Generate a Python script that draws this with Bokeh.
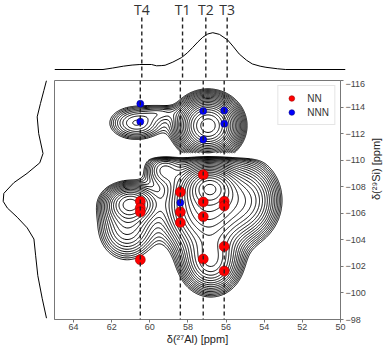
import math
import numpy as np
from bokeh.plotting import figure
from bokeh.models import Range1d, Span, Spacer
from bokeh.layouts import column, row
from bokeh.embed import file_html
from bokeh.resources import INLINE
from bokeh.core.properties import value

# ---------------- data ----------------
t_labels = ["T4", "T1", "T2", "T3"]
t_pos = [60.5, 58.4, 57.2, 56.1]

nn_al = [57.2, 58.4, 58.4, 58.4, 60.5, 60.5, 60.5, 57.2, 57.2, 56.1, 56.1, 56.1, 57.2, 60.5, 56.1]
nn_si = [-108.9, -107.6, -106.1, -105.3, -106.9, -106.4, -106.1, -106.85, -105.75,
         -106.9, -106.55, -103.5, -102.55, -102.5, -101.65]

nnn_al = [60.5, 60.5, 57.2, 56.1, 56.1, 57.2, 58.4]
nnn_si = [-114.25, -112.9, -113.7, -113.75, -112.75, -111.55, -106.8]

# projection on 27Al axis (top trace)
top_al = [65.0, 63.5, 62.5, 62.0, 61.45, 61.0, 60.6, 60.0, 59.74, 59.5, 59.3, 58.9, 58.46,
          58.15, 57.87, 57.6, 57.36, 57.1, 56.84, 56.5, 56.08, 55.8, 55.48, 55.1, 54.8,
          54.4, 54.1, 53.5, 53.08, 50.0]
top_int = [0.0, 0.0, 0.0, 0.04, 0.09, 0.12, 0.135, 0.135, 0.10, 0.105, 0.115, 0.20, 0.32,
           0.45, 0.60, 0.75, 0.87, 0.96, 0.995, 0.95, 0.80, 0.63, 0.42, 0.25, 0.15,
           0.09, 0.06, 0.02, 0.0, 0.0]

# projection on 29Si axis (left trace)
left_si = [-116.0, -115.25, -114.26, -113.26, -112.0, -110.5, -109.8, -109.0, -108.3,
           -107.5, -106.9, -106.4, -105.7, -104.9, -104.06, -102.8, -101.3, -99.6, -98.1]
left_int = [0.0, 0.06, 0.14, 0.215, 0.18, 0.08, 0.155, 0.45, 0.755, 0.985, 1.0, 0.905,
            0.675, 0.445, 0.29, 0.25, 0.20, 0.10, 0.0]

# 2D spectrum described as peak components (Al ppm, Si ppm, width Al, width Si, amplitude)
low_al = [56.85, 57.0, 61.0, 61.2, 56.8, 54.8, 59.3]
low_si = [-108.0, -106.5, -106.8, -105.0, -102.3, -107.0, -109.3]
low_wal = [0.7, 1.2, 0.8, 0.9, 0.85, 0.9, 0.6]
low_wsi = [0.8, 1.9, 0.8, 1.5, 1.3, 1.6, 0.8]
low_amp = [0.40, 0.40, 0.20, 0.12, 0.22, 0.18, 0.10]

up_al = [56.95, 60.7, 59.4]
up_si = [-112.6, -112.8, -113.6]
up_wal = [0.85, 0.9, 0.6]
up_wsi = [1.15, 0.8, 0.4]
up_amp = [0.55, 0.10, 0.04]

levels = list(np.geomspace(0.03, 0.9, 24))

X_RANGE = (65, 50)
Y_RANGE = (-98, -116)


def field(xg, yg, cx, cy, wx, wy, amp):
    X, Y = np.meshgrid(xg, yg)
    Z = np.zeros_like(X)
    for a, b, sa, sb, h in zip(cx, cy, wx, wy, amp):
        Z += h * np.exp(-0.5 * (((X - a) / sa) ** 2 + ((Y - b) / sb) ** 2))
    return X, Y, Z


xg = np.linspace(50, 65, 301)
yl = np.linspace(-110.5, -98, 251)
yu = np.linspace(-116, -110.55, 121)
_, YL, ZL = field(xg, yl, low_al, low_si, low_wal, low_wsi, low_amp)
ZL = ZL / (1 + np.exp((-110.25 - YL) / 0.12))
_, _, ZU = field(xg, yu, up_al, up_si, up_wal, up_wsi, up_amp)

# ---------------- layout sizes ----------------
LW = 54
MW = 336
TH = 80
MH = 267
RB = 45
BB = 28

FONT = "Liberation Sans"

x_range = Range1d(*X_RANGE)
y_range = Range1d(*Y_RANGE)

# main
p = figure(width=MW, height=MH, x_range=x_range, y_range=y_range,
           output_backend="svg", toolbar_location=None,
           x_axis_location="below", y_axis_location="right",
           min_border_left=0, min_border_top=0, min_border_right=RB, min_border_bottom=BB)
p.grid.visible = False
p.outline_line_color = "#777777"
p.outline_line_width = 1
p.background_fill_color = "white"
p.border_fill_color = "white"

p.contour(x=xg, y=yl, z=ZL, levels=levels, line_color="black", line_width=1)
p.contour(x=xg, y=yu, z=ZU, levels=levels, line_color="black", line_width=1)

for t in t_pos:
    p.add_layout(Span(location=t, dimension="height", line_color="#222222",
                      line_width=1.4, line_dash="4 3"))

p.scatter(nn_al, nn_si, size=10, fill_color="#ff0000", line_color="#a00000",
          line_width=0.6, legend_label="NN")
p.scatter(nnn_al, nnn_si, size=7, fill_color="#0000ff", line_color="#000080",
          line_width=0.6, legend_label="NNN")

p.legend.location = "top_right"
p.legend.label_text_font = FONT
p.legend.label_text_font_size = "10px"
p.legend.label_text_color = "#333333"
p.legend.border_line_color = "#cccccc"
p.legend.padding = 5
p.legend.spacing = 0
p.legend.margin = 5
p.legend.glyph_width = 16
p.legend.glyph_height = 14
p.legend.label_standoff = 8
p.legend.label_height = 14

for ax in (p.xaxis[0], p.yaxis[0]):
    ax.axis_line_color = "#777777"
    ax.major_tick_line_color = "#777777"
    ax.minor_tick_line_color = None
    ax.major_tick_in = 0
    ax.major_tick_out = 3
    ax.major_label_text_font = FONT
    ax.major_label_text_font_size = "9px"
    ax.major_label_text_color = "#444444"
    ax.major_label_standoff = 2
    ax.axis_label_text_font = FONT
    ax.axis_label_text_font_size = "11px"
    ax.axis_label_text_font_style = "normal"
    ax.axis_label_text_color = "#222222"
    ax.axis_label_standoff = 7

p.xaxis[0].major_label_standoff = 1
p.xaxis[0].axis_label_standoff = 0
p.xaxis[0].ticker = [64, 62, 60, 58, 56, 54, 52, 50]
p.yaxis[0].ticker = [-116, -114, -112, -110, -108, -106, -104, -102, -100, -98]
p.xaxis[0].axis_label = "δ(²⁷Al) [ppm]"
p.yaxis[0].axis_label = "δ(²⁹Si) [ppm]"
p.yaxis[0].axis_label_orientation = math.pi / 2

# top projection
pt = figure(width=MW, height=TH, x_range=x_range, y_range=Range1d(-0.297, 1.865),
            output_backend="svg", toolbar_location=None,
            min_border_left=0, min_border_top=0, min_border_right=RB, min_border_bottom=0)
pt.axis.visible = False
pt.grid.visible = False
pt.outline_line_color = None
pt.line(top_al, top_int, line_color="black", line_width=1)
pt.segment(x0=t_pos, y0=[1.405] * len(t_pos), x1=t_pos, y1=[-0.297] * len(t_pos),
           line_color="#222222", line_width=1.4, line_dash="4 3")
pt.text(x=t_pos, y=[1.62] * len(t_pos), text=t_labels, text_font=value("Open Sans"),
        text_font_size="14px", text_color="#333333", text_align="center",
        text_baseline="middle")

# left projection
pl = figure(width=LW, height=MH, x_range=Range1d(1.062, -0.185), y_range=y_range,
            output_backend="svg", toolbar_location=None,
            min_border_left=0, min_border_top=0, min_border_right=0, min_border_bottom=BB)
pl.axis.visible = False
pl.grid.visible = False
pl.outline_line_color = None
pl.line(left_int, left_si, line_color="black", line_width=1)

layout = column(row(Spacer(width=LW, height=TH), pt), row(pl, p))

open("out.html", "w").write(file_html(layout, INLINE))
